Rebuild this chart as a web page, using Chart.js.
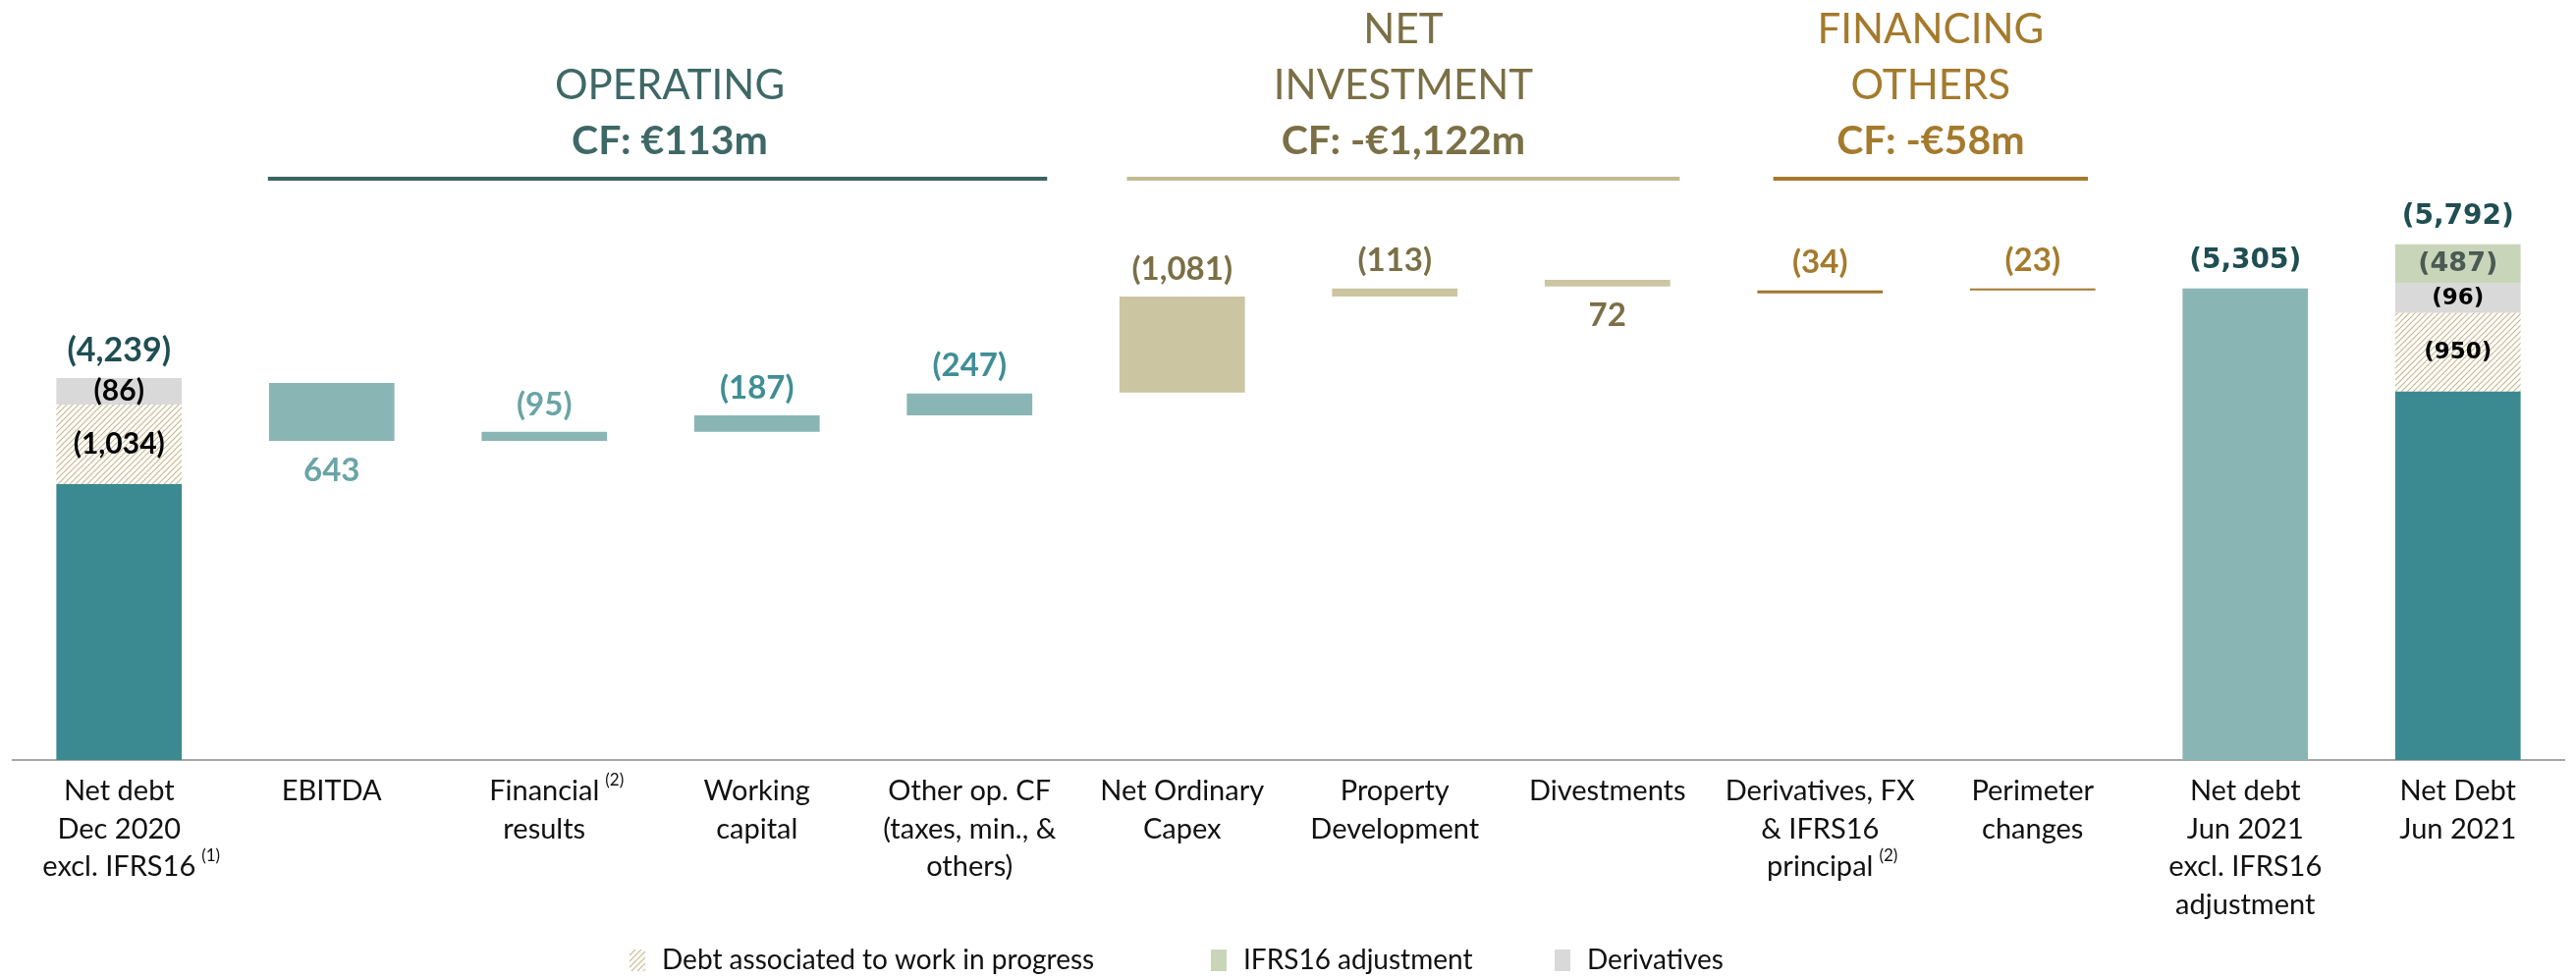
<!DOCTYPE html>
<html><head><meta charset="utf-8">
<script src="https://cdn.jsdelivr.net/npm/chart.js@4.4.1/dist/chart.umd.min.js"></script>
<style>html,body{margin:0;padding:0;background:#fff;}canvas{display:block;}</style>
</head><body>
<canvas id="c" width="2623" height="996"></canvas>
<script>
// ---------- DATA ----------
const categories = [
  ["Net debt","Dec 2020","excl. IFRS16^(1)"],
  ["EBITDA"],
  ["Financial^(2)","results"],
  ["Working","capital"],
  ["Other op. CF","(taxes, min., &","others)"],
  ["Net Ordinary","Capex"],
  ["Property","Development"],
  ["Divestments"],
  ["Derivatives, FX","& IFRS16","principal^(2)"],
  ["Perimeter","changes"],
  ["Net debt","Jun 2021","excl. IFRS16","adjustment"],
  ["Net Debt","Jun 2021"]
];
// floating bar ranges [low, high] in €m
const netDebtCore   = [[0,3105],null,null,null,null,null,null,null,null,null,null,[0,4144]];
const wipDebt       = [[3105,4000],null,null,null,null,null,null,null,null,null,null,[4144,5028]];
const derivatives   = [[4000,4298],null,null,null,null,null,null,null,null,null,null,[5028,5359]];
const ifrs16        = [null,null,null,null,null,null,null,null,null,null,null,[5359,5801]];
const operatingFlow = [null,[3591,4243],[3591,3691],[3691,3878],[3878,4122],null,null,null,null,null,null,null];
const investFlow    = [null,null,null,null,null,[4133,5215],[5215,5304],[5326,5403],null,null,null,null];
const financeFlow   = [null,null,null,null,null,null,null,null,[5249,5282],[5282,5305],null,null];
const netDebtExcl   = [null,null,null,null,null,null,null,null,null,null,[0,5305],null];

// printed labels (negative = shown in parentheses)
const totalLabels   = [-4239,null,null,null,null,null,null,null,null,null,-5305,-5792];
const wipLabels     = [-1034,null,null,null,null,null,null,null,null,null,null,-950];
const derivLabels   = [-86,null,null,null,null,null,null,null,null,null,null,-96];
const ifrsLabels    = [null,null,null,null,null,null,null,null,null,null,null,-487];
const flowLabels    = [null,643,-95,-187,-247,-1081,-113,72,-34,-23,null,null];

const groupTitles = [["OPERATING"],["NET","INVESTMENT"],["FINANCING","OTHERS"]];
const groupCF     = ["CF: €113m","CF: -€1,122m","CF: -€58m"];
const legendNames = ["Debt associated to work in progress","IFRS16 adjustment","Derivatives"];

// ---------- STYLE ----------
const C = {
  dark:'#3c8a91', light:'#8ab5b5', tan:'#cbc5a1', brown:'#a0772d', gray:'#d9d9d9', green:'#c9d5b9',
  totalTxt:'#1f4e53', invTxt:'#7a6f45', finTxt:'#a47a2c'
};
const opColors = [null,'#6aa4a6','#6aa4a6','#3f8e95','#3f8e95'];
const groupStyle = [
  {txt:'#3e6866', line:'#3b6462', cx:2.59, from:0.70, to:4.365},
  {txt:'#7a6f45', line:'#c3bb92', cx:6.04, from:4.74, to:7.34},
  {txt:'#a47a2c', line:'#a47a2c', cx:8.52, from:7.78, to:9.26}
];
const legendX = [641, 1233, 1583];

const canvas = document.getElementById('c');
const mainCtx = canvas.getContext('2d');
function makeHatch(){
  const t=document.createElement('canvas'); t.width=6; t.height=6;
  const g=t.getContext('2d'); g.fillStyle='#ffffff'; g.fillRect(0,0,6,6);
  g.strokeStyle='#c8b98e'; g.lineWidth=1.2;
  g.beginPath(); g.moveTo(0,6); g.lineTo(6,0); g.moveTo(-3,3); g.lineTo(3,-3); g.moveTo(3,9); g.lineTo(9,3); g.stroke();
  return mainCtx.createPattern(t,'repeat');
}
const hatch = makeHatch();

function fmt(v){ const s=Math.abs(v).toLocaleString('en-US'); return v<0?'('+s+')':s; }

const labelsPlugin = {
  id:'valueLabels',
  afterDatasetsDraw(chart){
    const ctx=chart.ctx; ctx.save(); ctx.textAlign='center'; ctx.textBaseline='middle';
    chart.data.datasets.forEach((ds,di)=>{
      if(!ds.valueLabels) return;
      const meta=chart.getDatasetMeta(di);
      meta.data.forEach((el,i)=>{
        const v=ds.valueLabels[i]; if(v==null) return;
        const top=Math.min(el.y,el.base), bot=Math.max(el.y,el.base);
        const right = i>=10;
        let y, color, font;
        if(ds.labelMode==='inside'){
          y=(top+bot)/2; color=ds.labelColor;
          font = right ? (ds.bigInside ? 'bold 27px "DejaVu Sans"' : 'bold 23px "DejaVu Sans"') : 'bold 30px Lato';
        } else {
          y = v<0 ? top-28 : bot+30;
          color = ds.labelColors ? ds.labelColors[i] : ds.labelColor;
          font='bold 33px Lato';
        }
        ctx.fillStyle=color; ctx.font=font; ctx.fillText(fmt(v), el.x, y);
      });
    });
    // totals above the stacked / full bars
    totalLabels.forEach((v,i)=>{
      if(v==null) return;
      let top=Infinity, x=0;
      chart.data.datasets.forEach((ds,di)=>{
        const el=chart.getDatasetMeta(di).data[i];
        if(ds.data[i]!=null && el){ top=Math.min(top,el.y,el.base); x=el.x; }
      });
      ctx.fillStyle=C.totalTxt;
      ctx.font = i>=10 ? 'bold 28px "DejaVu Sans"' : 'bold 34px Lato';
      ctx.fillText(fmt(v), x, top-28);
    });
    ctx.restore();
  }
};

const decorPlugin = {
  id:'decor',
  afterDraw(chart){
    const ctx=chart.ctx, xs=chart.scales.x; ctx.save();
    // category labels
    ctx.textBaseline='middle';
    categories.forEach((lines,i)=>{
      const cx=xs.getPixelForValue(i);
      lines.forEach((ln,li)=>{
        const parts=ln.split('^'); const y=806+li*38.5;
        ctx.font='29px Lato'; ctx.fillStyle='#111'; ctx.textAlign='center';
        ctx.fillText(parts[0], cx, y);
        if(parts[1]){
          const w=ctx.measureText(parts[0]).width;
          ctx.font='17px Lato'; ctx.textAlign='left';
          ctx.fillText(parts[1], cx+w/2+6, y-11);
        }
      });
    });
    // group headers
    groupTitles.forEach((lines,g)=>{
      const st=groupStyle[g]; const cx=xs.getPixelForValue(st.cx);
      ctx.textAlign='center'; ctx.fillStyle=st.txt;
      ctx.font='bold 41px Lato'; ctx.fillText(groupCF[g], cx, 144);
      ctx.font='42px Lato';
      lines.slice().reverse().forEach((t,k)=>{ ctx.fillText(t, cx, 144-57*(k+1)); });
      ctx.strokeStyle=st.line; ctx.lineWidth=4;
      ctx.beginPath(); ctx.moveTo(xs.getPixelForValue(st.from),182); ctx.lineTo(xs.getPixelForValue(st.to),182); ctx.stroke();
    });
    // legend
    const legendSets = chart.data.datasets.filter(d=>d.legendIndex!=null).sort((a,b)=>a.legendIndex-b.legendIndex);
    legendSets.forEach((d,k)=>{
      const x=legendX[k];
      ctx.fillStyle=d.backgroundColor; ctx.fillRect(x,967,16,22);
      ctx.fillStyle='#111'; ctx.font='28px Lato'; ctx.textAlign='left';
      ctx.fillText(d.label, x+33, 978);
    });
    ctx.restore();
  }
};

new Chart(canvas, {
  type:'bar',
  data:{
    labels: categories.map(l=>l.join(' ')),
    datasets:[
      {label:'Net debt', data:netDebtCore, backgroundColor:C.dark},
      {label:legendNames[0], data:wipDebt, backgroundColor:hatch, valueLabels:wipLabels, labelMode:'inside', labelColor:'#000', legendIndex:0},
      {label:legendNames[2], data:derivatives, backgroundColor:C.gray, valueLabels:derivLabels, labelMode:'inside', labelColor:'#000', legendIndex:2},
      {label:legendNames[1], data:ifrs16, backgroundColor:C.green, valueLabels:ifrsLabels, labelMode:'inside', labelColor:'#4b5a53', legendIndex:1, bigInside:true},
      {label:'Operating', data:operatingFlow, backgroundColor:C.light, valueLabels:flowLabels.map((v,i)=>i>=1&&i<=4?v:null), labelColors:opColors},
      {label:'Investment', data:investFlow, backgroundColor:C.tan, valueLabels:flowLabels.map((v,i)=>i>=5&&i<=7?v:null), labelColor:C.invTxt},
      {label:'Financing', data:financeFlow, backgroundColor:C.brown, valueLabels:flowLabels.map((v,i)=>i>=8&&i<=9?v:null), labelColor:C.finTxt},
      {label:'Net debt excl. IFRS16', data:netDebtExcl, backgroundColor:C.light}
    ]
  },
  options:{
    responsive:false, animation:false, devicePixelRatio:1,
    layout:{padding:{left:13,right:12,top:0,bottom:0}},
    datasets:{bar:{grouped:false, categoryPercentage:1, barPercentage:0.59, borderWidth:0, borderSkipped:false}},
    plugins:{legend:{display:false}, tooltip:{enabled:false}},
    scales:{
      x:{ grid:{display:false, drawTicks:false}, border:{display:true, color:'#a6a6a6', width:2},
          ticks:{display:false}, afterFit:(s)=>{ s.height=222; } },
      y:{ display:false, min:0, max:8550 }
    }
  },
  plugins:[labelsPlugin, decorPlugin]
});
</script>
</body></html>
